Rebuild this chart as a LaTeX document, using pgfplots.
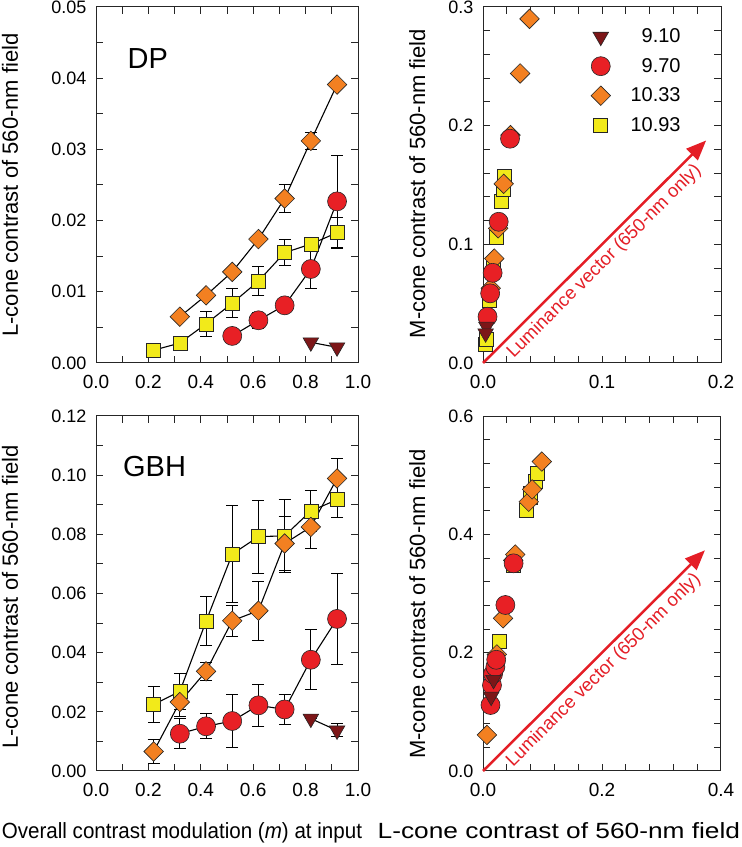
\documentclass[border=0pt]{standalone}
\usepackage{fontspec}
\setmainfont{Liberation Sans}
\usepackage{pgfplots}
\pgfplotsset{compat=1.18}
\usetikzlibrary{arrows.meta}
\definecolor{cDR}{RGB}{125,22,24}
\definecolor{cR}{RGB}{232,32,37}
\definecolor{cO}{RGB}{243,128,33}
\definecolor{cY}{RGB}{242,234,26}
\definecolor{cA}{RGB}{228,30,38}
\pgfplotsset{
  base/.style={
    scale only axis, clip=false, scaled ticks=false,
    axis line style={black!85, line width=1pt},
    every tick/.style={black!85, line width=1pt},
    major tick length=7pt, minor tick length=7pt,
    tick align=inside,
    /pgf/number format/assume math mode=true,
    label style={font=\fontsize{22}{26}\selectfont},
    xticklabel style={yshift=-9pt, font=\fontsize{19}{22}\selectfont},
    yticklabel style={xshift=-6pt, font=\fontsize{18}{21}\selectfont},
  },
  fx1/.style={xticklabel style={/pgf/number format/fixed, /pgf/number format/fixed zerofill, /pgf/number format/precision=1}},
  fy1/.style={yticklabel style={/pgf/number format/fixed, /pgf/number format/fixed zerofill, /pgf/number format/precision=1}},
  fy2/.style={yticklabel style={/pgf/number format/fixed, /pgf/number format/fixed zerofill, /pgf/number format/precision=2}},
  sY/.style={black, line width=1.1pt, mark=square*, mark size=7pt, mark options={draw=black!85, fill=cY, line width=0.6pt, solid}},
  sO/.style={black, line width=1.1pt, mark=square*, mark size=6.9pt, mark options={rotate=45, draw=black!85, fill=cO, line width=0.6pt, solid}},
  sR/.style={black, line width=1.1pt, mark=*, mark size=9.5pt, mark options={draw=black!85, fill=cR, line width=0.6pt, solid}},
  sD/.style={black, line width=1.1pt, mark=triangle*, mark size=9pt, mark options={rotate=180, draw=black!85, fill=cDR, line width=0.6pt, solid}},
  eb/.style={error bars/.cd, y dir=both, y explicit, error bar style={black, line width=1pt}, error mark options={black, line width=1pt, mark size=6pt, rotate=90}},
}
\begin{document}
\begin{tikzpicture}
\path[use as bounding box] (0pt,0pt) rectangle (742pt,847pt);

% ---------- top left: DP ----------
\begin{axis}[base, fx1, fy2, at={(96pt,484pt)}, anchor=south west, width=262pt, height=356pt,
  xmin=0, xmax=1, ymin=0, ymax=0.05,
  xtick={0,0.2,0.4,0.6,0.8,1.0}, minor xtick={0.1,0.3,0.5,0.7,0.9},
  ytick={0,0.01,0.02,0.03,0.04,0.05}, minor ytick={0.005,0.015,0.025,0.035,0.045},
  ylabel={L-cone contrast of 560-nm field},
  ylabel style={at={(axis description cs:-0.298,0.5)}, anchor=base},
]
\addplot[sY, eb] table[x=x, y=y, y error=e] {
x y e
0.22 0.0018 0
0.32 0.0028 0
0.42 0.0055 0.0018
0.52 0.0084 0.0020
0.62 0.0115 0.0020
0.72 0.0155 0.0018
0.82 0.0167 0.0005
0.92 0.0183 0.0022
};
\addplot[sO, eb] table[x=x, y=y, y error=e] {
x y e
0.32 0.0065 0
0.42 0.0095 0
0.52 0.0128 0
0.62 0.0174 0
0.72 0.0231 0.0020
0.82 0.0312 0.0012
0.92 0.0391 0
};
\addplot[sR, eb] table[x=x, y=y, y error=e] {
x y e
0.52 0.0038 0.0007
0.62 0.0060 0.0011
0.72 0.0081 0
0.82 0.0132 0.0028
0.92 0.0227 0.0065
};
\addplot[sD] table[x=x, y=y] {
x y
0.82 0.0029
0.92 0.0022
};
\node[anchor=base west, inner sep=0, font=\fontsize{29}{30}\selectfont] at (axis cs:0.12,0.0414) {DP};
\end{axis}

% ---------- top right ----------
\begin{axis}[base, fx1, fy1, at={(483pt,484pt)}, anchor=south west, width=238pt, height=356pt,
  xmin=0, xmax=0.2, ymin=0, ymax=0.3,
  xtick={0,0.1,0.2}, minor xtick={0.02,0.04,0.06,0.08,0.12,0.14,0.16,0.18},
  ytick={0,0.1,0.2,0.3}, minor ytick={0.02,0.04,0.06,0.08,0.12,0.14,0.16,0.18,0.22,0.24,0.26,0.28},
  ylabel={M-cone contrast of 560-nm field},
  ylabel style={at={(axis description cs:-0.243,0.504)}, anchor=base},
  legend style={draw=none, fill=none, at={(axis cs:0.1704,0.285)}, anchor=north east,
    font=\fontsize{20}{22}\selectfont, row sep=10pt,
    /tikz/every odd column/.append style={column sep=18pt}},
  legend cell align=right, reverse legend,
]
\addplot[cA, line width=2.5pt, -{Triangle[length=20pt,width=16pt]}, forget plot] coordinates {(0,0) (0.1875,0.1875)}
  node[pos=0.5, sloped, below, inner sep=4pt, text=cA, font=\fontsize{18.5}{20}\selectfont] {Luminance vector (650-nm only)};
\addplot[sY, only marks] table[x=x, y=y] {
x y
0.0018 0.016
0.0028 0.020
0.0055 0.053
0.0084 0.080
0.0115 0.106
0.0155 0.136
0.0167 0.146
0.0183 0.157
};
\addlegendentry{10.93}
\addplot[sO, only marks] table[x=x, y=y] {
x y
0.0065 0.063
0.0095 0.088
0.0128 0.1135
0.0174 0.151
0.0231 0.192
0.0312 0.244
0.0391 0.290
};
\addlegendentry{10.33}
\addplot[sR, only marks] table[x=x, y=y] {
x y
0.0038 0.039
0.0060 0.0587
0.0081 0.076
0.0132 0.119
0.0227 0.189
};
\addlegendentry{9.70}
\addplot[sD, only marks] table[x=x, y=y] {
x y
0.0029 0.0306
0.0022 0.025
};
\addlegendentry{9.10}
\end{axis}

% ---------- bottom left: GBH ----------
\begin{axis}[base, fx1, fy2, at={(96pt,76pt)}, anchor=south west, width=262pt, height=355pt,
  xmin=0, xmax=1, ymin=0, ymax=0.12,
  xtick={0,0.2,0.4,0.6,0.8,1.0}, minor xtick={0.1,0.3,0.5,0.7,0.9},
  ytick={0,0.02,0.04,0.06,0.08,0.10,0.12}, minor ytick={0.01,0.03,0.05,0.07,0.09,0.11},
  ylabel={L-cone contrast of 560-nm field},
  ylabel style={at={(axis description cs:-0.298,0.49)}, anchor=base},
  xlabel={\scalebox{0.935}[1]{Overall contrast modulation (\textit{m}) at input}},
  xlabel style={at={(axis description cs:0.328,-0.189)}, anchor=base},
]
\addplot[sY, eb] table[x=x, y=y, y error=e] {
x y e
0.22 0.0225 0.0060
0.32 0.0269 0.0060
0.42 0.0506 0.0083
0.52 0.0733 0.0165
0.62 0.0792 0.0123
0.72 0.0795 0.0124
0.82 0.0879 0.0070
0.92 0.0917 0.0060
};
\addplot[sO, eb] table[x=x, y=y, y error=e] {
x y e
0.22 0.0066 0.0040
0.32 0.0233 0.0050
0.42 0.0337 0.0030
0.52 0.0508 0.0053
0.62 0.0542 0.0100
0.72 0.0769 0.0090
0.82 0.0825 0.0073
0.92 0.0989 0.0066
};
\addplot[sR, eb] table[x=x, y=y, y error=e] {
x y e
0.32 0.0126 0.0050
0.42 0.0151 0.0042
0.52 0.0169 0.0088
0.62 0.0222 0.0070
0.72 0.0208 0.0050
0.82 0.0376 0.0102
0.92 0.0514 0.0153
};
\addplot[sD, eb] table[x=x, y=y, y error=e] {
x y e
0.82 0.0177 0
0.92 0.0137 0.0022
};
\node[anchor=base west, inner sep=0, font=\fontsize{29}{30}\selectfont] at (axis cs:0.103,0.0994) {GBH};
\end{axis}

% ---------- bottom right ----------
\begin{axis}[base, fx1, fy1, at={(483pt,76pt)}, anchor=south west, width=238pt, height=355pt,
  xmin=0, xmax=0.4, ymin=0, ymax=0.6,
  xtick={0,0.2,0.4}, minor xtick={0.04,0.08,0.12,0.16,0.24,0.28,0.32,0.36},
  ytick={0,0.2,0.4,0.6}, minor ytick={0.04,0.08,0.12,0.16,0.24,0.28,0.32,0.36,0.44,0.48,0.52,0.56},
  ylabel={M-cone contrast of 560-nm field},
  ylabel style={at={(axis description cs:-0.243,0.47)}, anchor=base},
  xlabel={\scalebox{1.195}[1]{L-cone contrast of 560-nm field}},
  xlabel style={at={(axis description cs:0.319,-0.189)}, anchor=base},
]
\addplot[cA, line width=2.5pt, -{Triangle[length=20pt,width=16pt]}] coordinates {(0,0) (0.373,0.373)}
  node[pos=0.5, sloped, below, inner sep=4pt, text=cA, font=\fontsize{18.5}{20}\selectfont] {Luminance vector (650-nm only)};
\addplot[sY, only marks] table[x=x, y=y] {
x y
0.0225 0.188
0.0269 0.2186
0.0506 0.347
0.0733 0.441
0.0792 0.462
0.0795 0.470
0.0879 0.489
0.0917 0.504
};
\addplot[sO, only marks] table[x=x, y=y] {
x y
0.0066 0.061
0.0233 0.197
0.0337 0.258
0.0508 0.356
0.0542 0.366
0.0769 0.455
0.0825 0.476
0.0989 0.523
};
\addplot[sR, only marks] table[x=x, y=y] {
x y
0.0126 0.1115
0.0151 0.145
0.0169 0.164
0.0208 0.176
0.0222 0.188
0.0376 0.2806
0.0514 0.351
};
\addplot[sD, only marks] table[x=x, y=y] {
x y
0.0177 0.154
0.0137 0.1256
};
\end{axis}
\end{tikzpicture}
\end{document}
